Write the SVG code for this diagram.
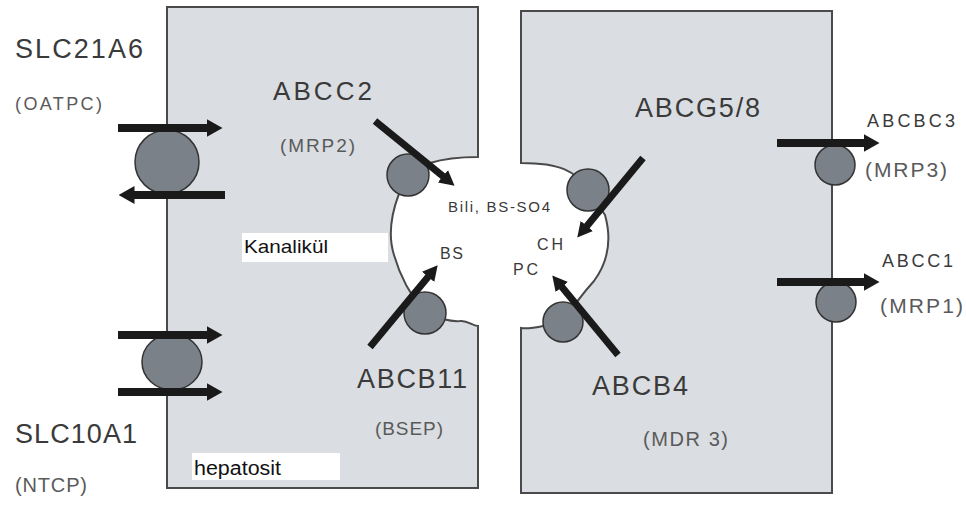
<svg xmlns="http://www.w3.org/2000/svg" width="966" height="505" viewBox="0 0 966 505">
<style>
.cell{fill:#dadde1;stroke:#4a4a4a;stroke-width:2}
.tp{fill:#7b8188;stroke:#333;stroke-width:1.5}
.big{font-family:"Liberation Sans",Arial,sans-serif;fill:#3a3a3a}
.par{font-family:"Liberation Sans",Arial,sans-serif;fill:#5a5a5a}
.lbl{font-family:"Liberation Sans",Arial,sans-serif;fill:#111}
.box{fill:#fff}
.am{stroke:#1a1a1a;stroke-width:8;fill:none}
.ac{stroke:#1a1a1a;stroke-width:7;fill:none}
</style>
<defs>
<marker id="hb" viewBox="0 0 16 18" markerUnits="userSpaceOnUse" markerWidth="16" markerHeight="18" refX="0.5" refY="9" orient="auto"><path d="M0,0 L16,9 L0,18 Z" fill="#1a1a1a"/></marker>
<marker id="hs" viewBox="0 0 15 16" markerUnits="userSpaceOnUse" markerWidth="15" markerHeight="16" refX="0.5" refY="8" orient="auto"><path d="M0,0 L15,8 L0,16 Z" fill="#1a1a1a"/></marker>
</defs>
<rect width="966" height="505" fill="#fff"/>
<g id="hepatocyte-left">
<path class="cell" d="M167,7 H478 V157 C462,157 446,158 430,163 L408,175 C394,200 386,230 394,255 C400,276 410,295 425,313 C440,319 450,322 460,321 C468,320 472,326 478,326 V488 H167 Z"/>
<rect class="box" x="242" y="233" width="146" height="29"/>
<text class="lbl" x="244" y="253" font-size="19" textLength="84" lengthAdjust="spacingAndGlyphs">Kanalikül</text>
<rect class="box" x="192" y="453" width="148" height="27"/>
<text class="lbl" x="194" y="475" font-size="20" textLength="87" lengthAdjust="spacingAndGlyphs">hepatosit</text>
</g>
<g id="hepatocyte-right">
<path class="cell" d="M521,11 H832 V493 H521 V328 C530,330 540,326 563,322 C574,305 584,292 594,281 C608,262 612,240 605,215 L588,190 C576,171 560,163 521,163 Z"/>
</g>
<g id="canaliculus-labels">
<text class="big" x="448" y="212" font-size="15" textLength="102">Bili, BS-SO4</text>
<text class="big" x="440" y="259" font-size="16" textLength="23">BS</text>
<text class="big" x="537" y="250" font-size="16" textLength="26">CH</text>
<text class="big" x="513" y="275" font-size="16" textLength="25">PC</text>
</g>
<g id="SLC21A6">
<circle class="tp" cx="167" cy="162" r="32"/>
<text class="big" x="15" y="58" font-size="27" textLength="128">SLC21A6</text>
<text class="par" x="15" y="110" font-size="18" textLength="87">(OATPC)</text>
</g>
<g id="SLC10A1">
<ellipse class="tp" cx="172" cy="362" rx="30" ry="28"/>
<text class="big" x="15" y="443" font-size="27" textLength="122">SLC10A1</text>
<text class="par" x="15" y="492" font-size="20" textLength="72">(NTCP)</text>
</g>
<g id="ABCC2">
<circle class="tp" cx="408" cy="175" r="21"/>
<text class="big" x="273" y="100" font-size="26" textLength="99">ABCC2</text>
<text class="par" x="280" y="152" font-size="19" textLength="75">(MRP2)</text>
</g>
<g id="ABCB11">
<circle class="tp" cx="425" cy="313" r="21"/>
<text class="big" x="357" y="388" font-size="27" textLength="110">ABCB11</text>
<text class="par" x="375" y="435" font-size="19" textLength="68">(BSEP)</text>
</g>
<g id="ABCG5-8">
<circle class="tp" cx="588" cy="190" r="21"/>
<text class="big" x="635" y="117" font-size="27" textLength="125">ABCG5/8</text>
</g>
<g id="ABCB4">
<circle class="tp" cx="563" cy="322" r="20"/>
<text class="big" x="592" y="395" font-size="27" textLength="96">ABCB4</text>
<text class="par" x="643" y="446" font-size="20" textLength="85">(MDR 3)</text>
</g>
<g id="ABCBC3">
<circle class="tp" cx="835" cy="165" r="20"/>
<text class="big" x="867" y="127" font-size="18" textLength="88">ABCBC3</text>
<text class="par" x="865" y="177" font-size="21" textLength="82">(MRP3)</text>
</g>
<g id="ABCC1">
<circle class="tp" cx="836" cy="302" r="20"/>
<text class="big" x="882" y="267" font-size="18" textLength="71">ABCC1</text>
<text class="par" x="880" y="313" font-size="21" textLength="83">(MRP1)</text>
</g>
<g id="connectors">
<line class="am" x1="118" y1="128" x2="207" y2="128" marker-end="url(#hb)"/>
<line class="am" x1="225" y1="195" x2="134" y2="195" marker-end="url(#hb)"/>
<line class="am" x1="118" y1="335" x2="207" y2="335" marker-end="url(#hb)"/>
<line class="am" x1="118" y1="392" x2="207" y2="392" marker-end="url(#hb)"/>
<line class="am" x1="777" y1="143" x2="864" y2="143" marker-end="url(#hb)"/>
<line class="am" x1="777" y1="282" x2="864" y2="282" marker-end="url(#hb)"/>
<line class="ac" x1="375" y1="121" x2="443.3" y2="176.5" marker-end="url(#hs)"/>
<line class="ac" x1="370" y1="347" x2="428.4" y2="276.5" marker-end="url(#hs)"/>
<line class="ac" x1="643" y1="158" x2="586.5" y2="226.4" marker-end="url(#hs)"/>
<line class="ac" x1="618" y1="355" x2="561.5" y2="286.6" marker-end="url(#hs)"/>
</g>
</svg>
